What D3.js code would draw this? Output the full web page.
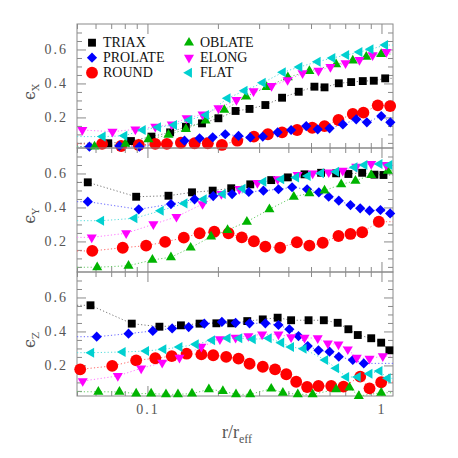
<!DOCTYPE html>
<html>
<head>
<meta charset="utf-8">
<script src="https://cdn.jsdelivr.net/npm/d3@7"></script>
<style>
  body { margin: 0; background: #fff; }
  svg { display: block; }
</style>
</head>
<body>
<svg id="chart"></svg>
<script>
// ---- data (r / r_eff and ellipticity) ----
var seriesNames = ["TRIAX", "PROLATE", "ROUND", "OBLATE", "ELONG", "FLAT"];
var panelNames = ["X", "Y", "Z"];
var xTickLabels = ["0.1", "1"];
var yTickLabels = [0.2, 0.4, 0.6];

// epsilon_X
var triaxX_r = [0.068,0.085,0.104,0.125,0.146,0.171,0.201,0.238,0.273,0.319,0.376,0.443,0.517,0.571,0.657,0.742,0.832,0.927,1.037];
var triaxX_e = [0.048,0.061,0.087,0.112,0.145,0.165,0.195,0.238,0.25,0.273,0.316,0.351,0.381,0.377,0.401,0.408,0.414,0.416,0.43];
var prolateX_r = [0.0565,0.0759,0.0924,0.144,0.167,0.190,0.215,0.245,0.275,0.311,0.360,0.411,0.477,0.534,0.600,0.684,0.780,0.866,0.998,1.091];
var prolateX_e = [0.028,0.032,0.028,0.063,0.077,0.083,0.101,0.091,0.082,0.087,0.112,0.126,0.149,0.130,0.136,0.159,0.189,0.171,0.208,0.171];
var roundX_r = [0.064,0.0772,0.0918,0.108,0.121,0.139,0.159,0.181,0.208,0.242,0.285,0.327,0.376,0.436,0.506,0.571,0.655,0.754,0.837,0.964,1.089];
var roundX_e = [0.044,0.032,0.038,0.044,0.044,0.051,0.048,0.048,0.038,0.063,0.087,0.101,0.112,0.126,0.139,0.149,0.185,0.22,0.228,0.271,0.267];
var oblateX_r = [0.0594,0.0805,0.101,0.123,0.146,0.177,0.213,0.264,0.323,0.398,0.492,0.640,0.754,0.861,0.997];
var oblateX_e = [0.028,0.044,0.071,0.097,0.132,0.181,0.244,0.322,0.379,0.436,0.473,0.513,0.534,0.557,0.573];
var elongX_r = [0.0527,0.0709,0.0888,0.108,0.127,0.147,0.172,0.201,0.240,0.284,0.339,0.397,0.460,0.538,0.605,0.702,0.805,0.916,1.05];
var elongX_e = [0.126,0.116,0.130,0.145,0.159,0.195,0.218,0.254,0.303,0.354,0.385,0.420,0.46,0.475,0.497,0.519,0.538,0.567,0.585];
var flatX_r = [0.0644,0.0797,0.0955,0.111,0.130,0.151,0.178,0.220,0.260,0.311,0.379,0.446,0.534,0.617,0.707,0.805,0.898,1.037];
var flatX_e = [0.087,0.092,0.126,0.142,0.155,0.185,0.214,0.313,0.357,0.404,0.466,0.497,0.528,0.55,0.567,0.585,0.601,0.626];

// epsilon_Y
var triaxY_r = [0.0556,0.0895,0.123,0.155,0.190,0.228,0.275,0.338,0.398,0.469,0.552,0.640,0.722,0.827,0.933,1.02];
var triaxY_e = [0.548,0.463,0.469,0.489,0.499,0.513,0.536,0.561,0.577,0.595,0.604,0.601,0.597,0.604,0.593,0.591];
var prolateY_r = [0.0556,0.0918,0.126,0.159,0.191,0.230,0.271,0.313,0.363,0.415,0.481,0.540,0.595,0.657,0.737,0.811,0.889,0.990,1.089];
var prolateY_e = [0.434,0.389,0.420,0.448,0.467,0.479,0.491,0.499,0.507,0.519,0.507,0.489,0.463,0.440,0.414,0.395,0.381,0.385,0.365];
var roundY_r = [0.0581,0.0784,0.0987,0.119,0.143,0.167,0.193,0.222,0.253,0.285,0.319,0.369,0.435,0.492,0.561,0.655,0.737,0.827,0.974];
var roundY_e = [0.144,0.163,0.175,0.197,0.222,0.248,0.257,0.248,0.224,0.201,0.169,0.163,0.195,0.175,0.192,0.232,0.244,0.254,0.316];
var oblateY_r = [0.061,0.083,0.105,0.126,0.153,0.187,0.220,0.266,0.332,0.422,0.492,0.571,0.673,0.774,0.904,1.064];
var oblateY_e = [0.048,0.057,0.091,0.107,0.163,0.228,0.267,0.316,0.389,0.463,0.483,0.499,0.536,0.557,0.591,0.616];
var elongY_r = [0.0578,0.0811,0.106,0.133,0.172,0.207,0.247,0.295,0.360,0.438,0.508,0.595,0.683,0.780,0.904,1.047];
var elongY_e = [0.224,0.248,0.301,0.345,0.420,0.479,0.509,0.544,0.567,0.591,0.601,0.607,0.616,0.640,0.656,0.650];
var flatY_r = [0.0634,0.088,0.114,0.144,0.174,0.210,0.255,0.313,0.373,0.432,0.484,0.552,0.640,0.767,0.846,0.981,1.081];
var flatY_e = [0.322,0.336,0.381,0.424,0.448,0.479,0.510,0.551,0.566,0.577,0.585,0.601,0.610,0.636,0.650,0.656,0.650];

// epsilon_Z
var triaxZ_r = [0.0571,0.0857,0.1125,0.139,0.167,0.197,0.228,0.267,0.311,0.360,0.411,0.488,0.567,0.650,0.722,0.792,0.904,0.997,1.081];
var triaxZ_e = [0.554,0.446,0.428,0.436,0.446,0.448,0.448,0.461,0.471,0.481,0.466,0.466,0.466,0.451,0.413,0.379,0.360,0.334,0.289];
var prolateZ_r = [0.0607,0.083,0.1054,0.1275,0.150,0.175,0.208,0.238,0.273,0.319,0.363,0.404,0.442,0.484,0.538,0.600,0.657,0.754,0.840];
var prolateZ_e = [0.369,0.387,0.403,0.418,0.426,0.446,0.456,0.451,0.448,0.448,0.438,0.413,0.373,0.314,0.289,0.281,0.251,0.232,0.212];
var roundZ_r = [0.0516,0.0707,0.0895,0.108,0.127,0.147,0.170,0.191,0.217,0.245,0.273,0.311,0.351,0.392,0.432,0.481,0.538,0.610,0.688,0.811,0.889,0.997];
var roundZ_e = [0.177,0.197,0.230,0.242,0.255,0.269,0.265,0.260,0.250,0.240,0.210,0.192,0.177,0.148,0.104,0.073,0.079,0.079,0.075,0.134,0.065,0.101];
var oblateZ_r = [0.0617,0.0759,0.0895,0.1037,0.120,0.135,0.155,0.183,0.210,0.239,0.275,0.338,0.379,0.439,0.508,0.640,0.730,0.800,0.997];
var oblateZ_e = [0.045,0.044,0.034,0.034,0.030,0.030,0.034,0.059,0.049,0.030,0.030,0.063,0.039,0.030,0.030,0.059,0.069,0.020,0.039];
var elongZ_r = [0.0529,0.0747,0.094,0.1156,0.137,0.170,0.204,0.238,0.270,0.309,0.363,0.411,0.469,0.534,0.590,0.655,0.718,0.784,0.889,1.013];
var elongZ_e = [0.108,0.138,0.183,0.216,0.245,0.310,0.354,0.363,0.373,0.383,0.383,0.367,0.363,0.360,0.330,0.324,0.295,0.245,0.240,0.255];
var flatZ_r = [0.0575,0.0784,0.0987,0.117,0.137,0.161,0.189,0.220,0.247,0.282,0.330,0.373,0.411,0.465,0.575,0.640,0.707,0.792,0.889,0.981,1.064];
var flatZ_e = [0.275,0.279,0.285,0.295,0.308,0.324,0.348,0.360,0.360,0.354,0.360,0.334,0.308,0.298,0.232,0.183,0.132,0.132,0.151,0.167,0.124];

var panelData = [
  [[triaxX_r, triaxX_e], [prolateX_r, prolateX_e], [roundX_r, roundX_e], [oblateX_r, oblateX_e], [elongX_r, elongX_e], [flatX_r, flatX_e]],
  [[triaxY_r, triaxY_e], [prolateY_r, prolateY_e], [roundY_r, roundY_e], [oblateY_r, oblateY_e], [elongY_r, elongY_e], [flatY_r, flatY_e]],
  [[triaxZ_r, triaxZ_e], [prolateZ_r, prolateZ_e], [roundZ_r, roundZ_e], [oblateZ_r, oblateZ_e], [elongZ_r, elongZ_e], [flatZ_r, flatZ_e]]
];

// ---- styles ----
var colors = ["#000000", "#0000ff", "#ff0000", "#00b400", "#ff00ff", "#00d0d0"];
var lineColors = ["#777777", "#6666ff", "#ff6666", "#66cc66", "#ff77ff", "#55dddd"];
var symbols = [d3.symbolSquare, d3.symbolSquare, d3.symbolCircle, d3.symbolTriangle, d3.symbolTriangle, d3.symbolTriangle];
var symSizes = [62, 52, 110, 44, 44, 44];
var symRotate = [0, 45, 0, 0, 180, -90];
var drawOrder = [0, 2, 1, 3, 4, 5];

var margin = {top: 24, left: 77},
    width = 316,
    panelH = 124;

var svg = d3.select("#chart").attr("width", 458).attr("height", 458);

var x = d3.scaleLog().domain([0.05, 1.12]).range([0, width]);
var y = d3.scaleLinear().domain([0.02, 0.75]).range([panelH, 0]);

var xMajor = [0.1, 1];
var xMinor = [0.05,0.06,0.07,0.08,0.09,0.2,0.3,0.4,0.5,0.6,0.7,0.8,0.9];
var yMinor = d3.range(1, 15).map(function(i){ return i * 0.05; }).filter(function(v){ return Math.abs(v*5 - Math.round(v*5)) > 1e-6; });

var axisCol = "#8a8a8a";
var serif = "Liberation Serif, DejaVu Serif, serif";

svg.append("defs").append("clipPath").attr("id", "clip")
  .append("rect").attr("width", width).attr("height", panelH);

var line = d3.line()
  .x(function(d){ return d[0]; })
  .y(function(d){ return d[1]; });

panelNames.forEach(function(pname, p){
  var g = svg.append("g")
    .attr("transform", "translate(" + margin.left + "," + (margin.top + p * panelH) + ")");

  // ticks
  function styleAxis(sel){
    sel.select(".domain").remove();
    sel.selectAll("line").attr("stroke", axisCol);
    sel.selectAll("text").remove();
  }
  g.append("g").attr("transform", "translate(0," + panelH + ")")
    .call(d3.axisBottom(x).tickValues(xMajor).tickSize(-10)).call(styleAxis);
  g.append("g").attr("transform", "translate(0," + panelH + ")")
    .call(d3.axisBottom(x).tickValues(xMinor).tickSize(-5)).call(styleAxis);
  g.append("g").call(d3.axisTop(x).tickValues(xMajor).tickSize(-10)).call(styleAxis);
  g.append("g").call(d3.axisTop(x).tickValues(xMinor).tickSize(-5)).call(styleAxis);
  g.append("g").call(d3.axisLeft(y).tickValues(yTickLabels).tickSize(-9)).call(styleAxis);
  g.append("g").call(d3.axisLeft(y).tickValues(yMinor).tickSize(-5)).call(styleAxis);
  g.append("g").attr("transform", "translate(" + width + ",0)")
    .call(d3.axisRight(y).tickValues(yTickLabels).tickSize(-9)).call(styleAxis);
  g.append("g").attr("transform", "translate(" + width + ",0)")
    .call(d3.axisRight(y).tickValues(yMinor).tickSize(-5)).call(styleAxis);

  // y tick labels
  var yl = g.append("g")
    .call(d3.axisLeft(y).tickValues(yTickLabels).tickSize(0).tickPadding(9).tickFormat(d3.format(".1f")));
  yl.select(".domain").remove();
  yl.selectAll("text")
    .attr("font-family", serif).attr("font-size", 14).attr("fill", "#555")
    .attr("letter-spacing", 2);

  // frame
  g.append("rect").attr("width", width).attr("height", panelH)
    .attr("fill", "none").attr("stroke", axisCol).attr("stroke-width", 1);

  // axis name  epsilon_X etc
  var lab = g.append("text")
    .attr("transform", "translate(-42," + (panelH / 2 + 6) + ") rotate(-90)")
    .attr("font-family", "DejaVu Serif, serif").attr("font-size", 16).attr("fill", "#555")
    .attr("text-anchor", "middle");
  lab.append("tspan").text("\u03F5");
  lab.append("tspan").attr("font-size", 10).attr("dy", 4).text(pname);

  // dotted lines, extended flat to the frame
  var lines = g.append("g").attr("clip-path", "url(#clip)");
  drawOrder.forEach(function(s){
    var rs = panelData[p][s][0], es = panelData[p][s][1];
    var pts = rs.map(function(r, i){ return [x(r), y(es[i])]; });
    pts.unshift([0, pts[0][1]]);
    pts.push([width, pts[pts.length - 1][1]]);
    lines.append("path")
      .attr("d", line(pts))
      .attr("fill", "none")
      .attr("stroke", lineColors[s])
      .attr("stroke-width", 1)
      .attr("stroke-dasharray", "1.2,2.2");
  });

  // markers
  drawOrder.forEach(function(s){
    var rs = panelData[p][s][0], es = panelData[p][s][1];
    g.append("g").selectAll("path")
      .data(rs.map(function(r, i){ return {r: r, e: es[i]}; }))
      .enter()
      .append("path")
      .attr("d", d3.symbol().type(symbols[s]).size(symSizes[s]))
      .attr("transform", function(d){
        return "translate(" + x(d.r) + "," + y(d.e) + ") rotate(" + symRotate[s] + ")";
      })
      .attr("fill", colors[s]);
  });

  // legend in the top panel
  if (p === 0) {
    var leg = g.append("g");
    seriesNames.forEach(function(name, s){
      var col = Math.floor(s / 3), row = s % 3;
      var lx = 15 + col * 97, ly = 18.7 + row * 15;
      leg.append("path")
        .attr("d", d3.symbol().type(symbols[s]).size(symSizes[s]))
        .attr("transform", "translate(" + lx + "," + ly + ") rotate(" + symRotate[s] + ")")
        .attr("fill", colors[s]);
      leg.append("text")
        .attr("x", lx + 11).attr("y", ly + 4.5)
        .attr("font-family", serif).attr("font-size", 14).attr("fill", "#111")
        .text(name);
    });
  }

  // x tick labels on the bottom panel
  if (p === panelNames.length - 1) {
    var xl = g.append("g").attr("transform", "translate(0," + panelH + ")")
      .call(d3.axisBottom(x).tickValues(xMajor).tickSize(0).tickPadding(8)
        .tickFormat(function(d, i){ return xTickLabels[i]; }));
    xl.select(".domain").remove();
    xl.selectAll("text")
      .attr("font-family", serif).attr("font-size", 14).attr("fill", "#555")
      .attr("letter-spacing", 2);
  }
});

// x axis title r / r_eff
var xt = svg.append("text")
  .attr("x", margin.left + width / 2 + 2).attr("y", 438)
  .attr("font-family", serif).attr("font-size", 18).attr("fill", "#555")
  .attr("text-anchor", "middle");
xt.append("tspan").text("r/r");
xt.append("tspan").attr("font-size", 12).attr("dy", 5).text("eff");
</script>
</body>
</html>
